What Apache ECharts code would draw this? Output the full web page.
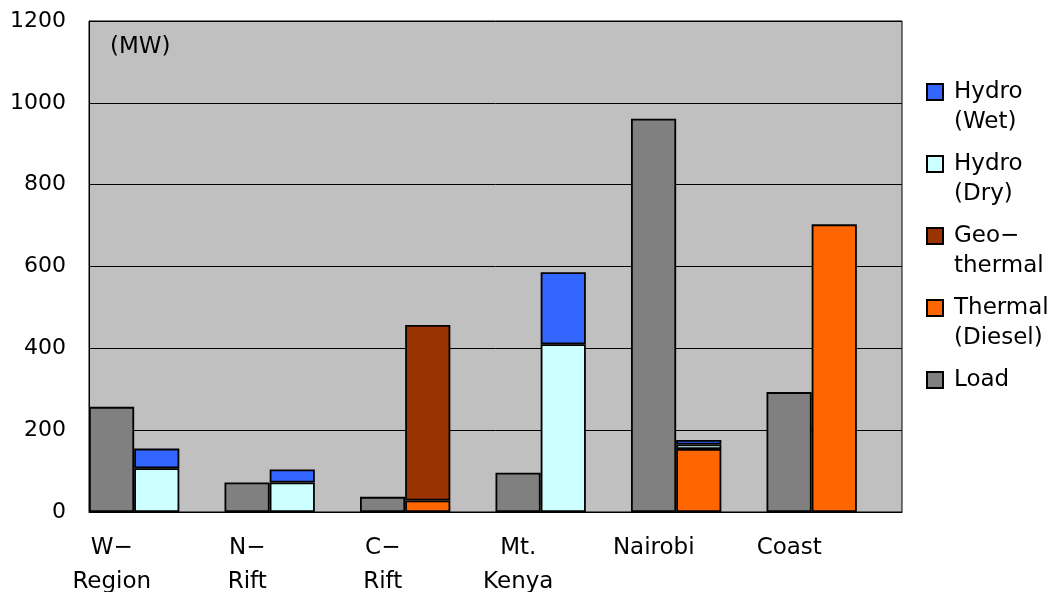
<!DOCTYPE html>
<html>
<head>
<meta charset="utf-8">
<script src="https://cdn.jsdelivr.net/npm/echarts@6/dist/echarts.min.js"></script>
<style>
  html, body { margin: 0; padding: 0; background: #ffffff; }
  #chart { width: 1056px; height: 592px; }
</style>
</head>
<body>
<div id="chart"></div>
<script>
// Regional load and installed supply (MW)
const regions = ['W−\nRegion', 'N−\nRift', 'C−\nRift', 'Mt.\nKenya', 'Nairobi', 'Coast'];
const load       = [257, 72, 37, 96, 961, 293];
const thermal    = [null, null, 28, null, 154, 703];
const geothermal = [null, null, 429, null, null, null];
const hydroDry   = [107, 72, null, 410, 11, null];
const hydroWet   = [48, 32, null, 176, 11, null];
const yTicks = { min: 0, max: 1200, step: 200 };

// legend entries, top to bottom, with their two-line captions
const legendNames = ['Hydro (Wet)', 'Hydro (Dry)', 'Geo−thermal', 'Thermal (Diesel)', 'Load'];
const legendLines = {
  'Hydro (Wet)': ['Hydro', '(Wet)'],
  'Hydro (Dry)': ['Hydro', '(Dry)'],
  'Geo−thermal': ['Geo−', 'thermal'],
  'Thermal (Diesel)': ['Thermal', '(Diesel)'],
  'Load': ['Load', '']
};

const FONT = 'DejaVu Sans';
const edge = { borderColor: '#000000', borderWidth: 1.8 };

function bar(name, data, color, stack) {
  return {
    name: name,
    type: 'bar',
    stack: stack,
    data: data,
    barGap: '0%',
    barCategoryGap: '0%',
    itemStyle: Object.assign({ color: color }, edge),
    emphasis: { disabled: true }
  };
}

const chart = echarts.init(document.getElementById('chart'));
chart.setOption({
  animation: false,
  backgroundColor: '#ffffff',
  textStyle: { fontFamily: FONT, color: '#000000' },
  title: {
    text: '(MW)',
    left: 110,
    top: 36,
    padding: 0,
    textStyle: { fontFamily: FONT, fontSize: 23, fontWeight: 'normal', color: '#000000' }
  },
  grid: {
    left: 89, right: 154, top: 21, bottom: 80,
    show: true,
    backgroundColor: '#C0C0C0',
    borderColor: '#000000',
    borderWidth: 1,
    outerBoundsMode: 'none',
    containLabel: false
  },
  legend: {
    orient: 'vertical',
    left: 926,
    top: 47,
    padding: 0,
    itemGap: -18,
    itemWidth: 16,
    itemHeight: 16,
    icon: 'rect',
    selectedMode: false,
    data: legendNames,
    formatter: function (name) {
      const l = legendLines[name];
      return '\n' + l[0] + '\n' + l[1];
    },
    textStyle: {
      fontFamily: FONT,
      fontSize: 23,
      lineHeight: 30,
      color: '#000000',
      padding: [0, 0, 0, 6]
    }
  },
  xAxis: {
    type: 'category',
    data: regions,
    axisLine: { show: true, lineStyle: { color: '#000000', width: 1 } },
    axisTick: { show: false },
    splitLine: { show: false },
    axisLabel: {
      interval: 0,
      margin: 19,
      fontFamily: FONT,
      fontSize: 23,
      lineHeight: 34,
      color: '#000000',
      align: 'center',
      padding: [0, 90, 0, 0]
    }
  },
  yAxis: {
    type: 'value',
    min: yTicks.min,
    max: yTicks.max,
    interval: yTicks.step,
    axisLine: { show: true, lineStyle: { color: '#000000', width: 1 } },
    axisTick: { show: false },
    splitLine: { show: true, lineStyle: { color: '#000000', width: 1 } },
    axisLabel: {
      margin: 23,
      fontFamily: FONT,
      fontSize: 22,
      color: '#000000',
      formatter: function (v) { return String(v); }
    }
  },
  series: [
    bar('Load', load, '#808080', 'load'),
    bar('Thermal (Diesel)', thermal, '#FF6600', 'supply'),
    bar('Geo−thermal', geothermal, '#993300', 'supply'),
    bar('Hydro (Dry)', hydroDry, '#CCFFFF', 'supply'),
    bar('Hydro (Wet)', hydroWet, '#3366FF', 'supply'),
    // empty third slot in each group keeps the pair at the left of its band
    {
      name: 'spacer', type: 'bar', stack: 'spacer', data: [],
      barGap: '0%', barCategoryGap: '0%', silent: true,
      itemStyle: { color: 'transparent', borderWidth: 0 }
    }
  ]
});
</script>
</body>
</html>
